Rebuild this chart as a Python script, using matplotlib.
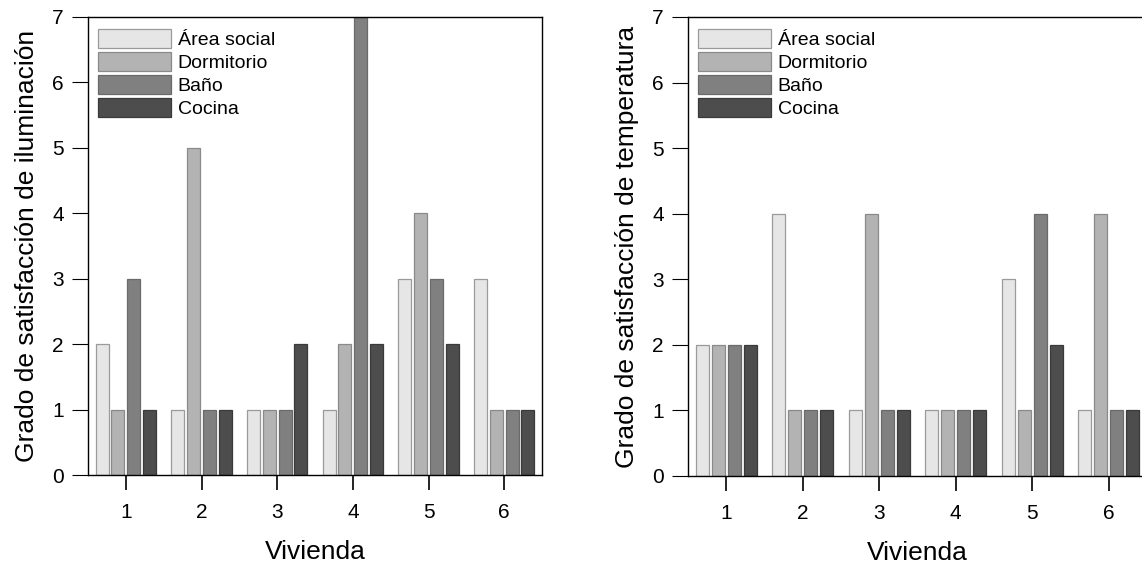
import numpy as np
import matplotlib
matplotlib.use("Agg")
import matplotlib.pyplot as plt

plt.rcParams['font.family'] = ['Liberation Sans', 'DejaVu Sans']

viviendas = [1, 2, 3, 4, 5, 6]
espacios = ['Área social', 'Dormitorio', 'Baño', 'Cocina']

# grado de satisfaccion de iluminacion, una lista por espacio
ilum_area = [2, 1, 1, 1, 3, 3]
ilum_dorm = [1, 5, 1, 2, 4, 1]
ilum_bano = [3, 1, 1, 7, 3, 1]
ilum_coc = [1, 1, 2, 2, 2, 1]

# grado de satisfaccion de temperatura
temp_area = [2, 4, 1, 1, 3, 1]
temp_dorm = [2, 1, 4, 1, 1, 4]
temp_bano = [2, 1, 1, 1, 4, 1]
temp_coc = [2, 1, 1, 1, 2, 1]

colores = ['#e6e6e6', '#b3b3b3', '#808080', '#4d4d4d']
bordes = ['#9a9a9a', '#8a8a8a', '#6a6a6a', '#3a3a3a']


def dibujar(ax, series, ylabel):
    x = np.array(viviendas)
    paso = 0.209
    for i, (vals, nombre) in enumerate(zip(series, espacios)):
        ax.bar(x + (i - 1.5) * paso, vals, width=0.172, color=colores[i],
               edgecolor=bordes[i], linewidth=0.9, label=nombre, zorder=2)
    ax.set_xlim(0.5, 6.5)
    ax.set_ylim(0, 7)
    ax.set_xticks(viviendas)
    ax.set_yticks(range(0, 8))
    ax.tick_params(axis='y', length=11.5, width=0.8, pad=6, labelsize=15)
    ax.tick_params(axis='x', length=11, width=1.2, pad=9, labelsize=15)
    ax.set_xlabel('Vivienda', fontsize=19, labelpad=13)
    ax.set_ylabel(ylabel, fontsize=19, labelpad=9)
    for s in ax.spines.values():
        s.set_linewidth(1.0)
    ax.legend(loc='upper left', bbox_to_anchor=(0.022, 0.974), frameon=False,
              fontsize=14, handlelength=3.75, handleheight=1.12,
              labelspacing=0.16, handletextpad=0.35, borderpad=0,
              borderaxespad=0)


fig = plt.figure(figsize=(11.42, 5.68), dpi=100)
ax1 = fig.add_axes([0.0771, 0.1637, 0.3975, 0.8064])
ax2 = fig.add_axes([0.6025, 0.1620, 0.4019, 0.8081])

dibujar(ax1, [ilum_area, ilum_dorm, ilum_bano, ilum_coc],
        'Grado de satisfacción de iluminación')
dibujar(ax2, [temp_area, temp_dorm, temp_bano, temp_coc],
        'Grado de satisfacción de temperatura')

fig.savefig('out.png', dpi=100)
